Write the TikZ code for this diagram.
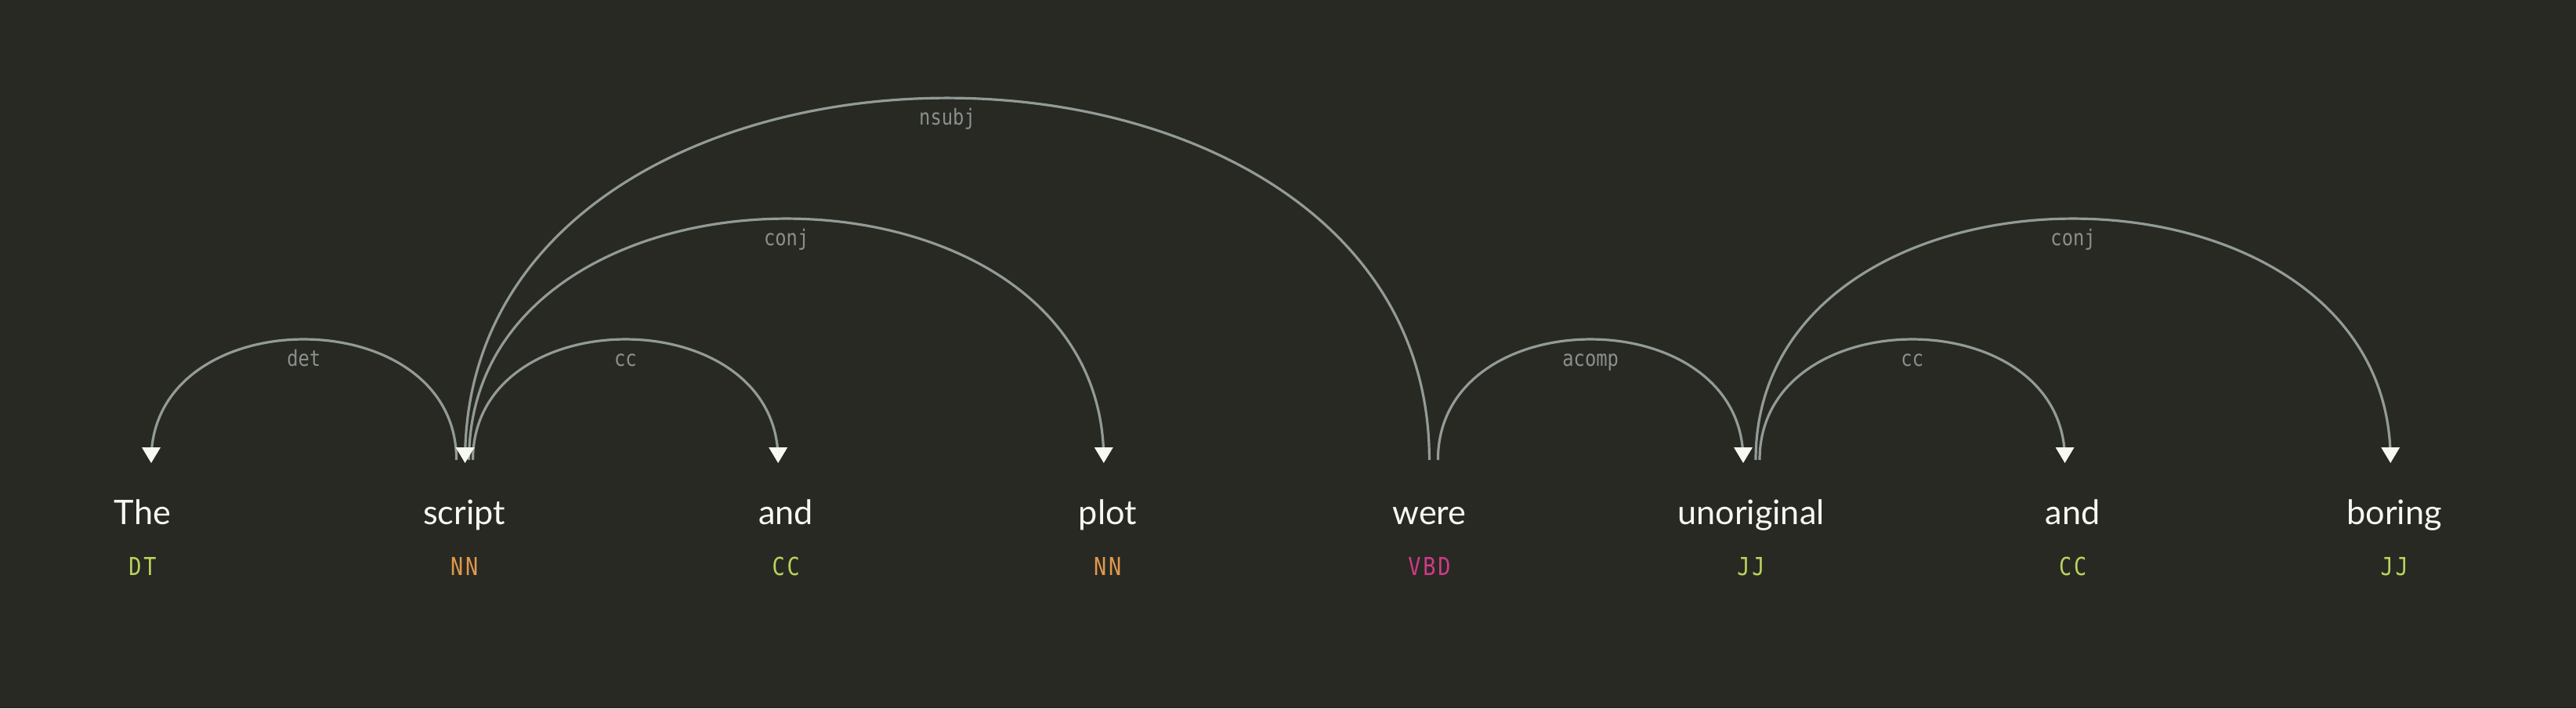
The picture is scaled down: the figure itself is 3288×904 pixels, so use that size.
\documentclass[tikz,border=0pt]{standalone}
\usepackage{fontspec}
\setmainfont{Lato}
\newfontfamily\tagfont[FakeStretch=0.85,LetterSpace=9]{DejaVu Sans Mono}
\newfontfamily\labfont[FakeStretch=0.85]{DejaVu Sans Mono}
\usetikzlibrary{calc}
\definecolor{bg}{RGB}{40,41,35}
\definecolor{fg}{RGB}{248,248,242}
\definecolor{arcc}{RGB}{146,155,151}
\definecolor{labc}{RGB}{138,144,140}
\definecolor{tgreen}{RGB}{185,212,92}
\definecolor{torange}{RGB}{226,152,76}
\definecolor{tpink}{RGB}{208,58,136}
\tikzset{
  word/.style={anchor=base, inner sep=0pt, text=fg, font=\fontsize{10.8}{12}\selectfont},
  tagtext/.style={anchor=base, inner sep=0pt, font=\tagfont\fontsize{7.9}{9}\selectfont},
  lab/.style={anchor=base, inner sep=0pt, text=labc, font=\labfont\fontsize{7}{8}\selectfont},
  arcline/.style={draw=arcc, line width=0.8pt},
  tipfill/.style={fill=fg}
}
\newcommand\deparc[5]{% name, level, label text, start coord, end coord
  \draw[arcline] (#4) .. controls +(0,{-205.3*#2}) and +(0,{-205.3*#2}) .. (#5);
  \node[lab] (#1) at ($(#4)!0.5!(#5)+(0,{-154*#2+34})$) {#3};
}
\newcommand\deptip[1]{%
  \fill[tipfill] ($(#1)+(-12,-16)$) -- ($(#1)+(12,-16)$) -- ($(#1)+(0,4)$) -- cycle;
}
\begin{document}
\begin{tikzpicture}[x=0.25pt,y=-0.25pt]
\fill[bg] (0,0) rectangle (3288,904);
\useasboundingbox (0,0) rectangle (3288,904);
% words
\node[word] (w0) at (182,669.3) {The};
\node[word] (w1) at (592.6,669.3) {script};
\node[word] (w2) at (1003.2,669.3) {and};
\node[word] (w3) at (1413.8,669.3) {plot};
\node[word] (w4) at (1824.4,669.3) {were};
\node[word] (w5) at (2235,669.3) {unoriginal};
\node[word] (w6) at (2645.6,669.3) {and};
\node[word] (w7) at (3056.2,669.3) {boring};
% tags
\node[tagtext, text=tgreen] (t0) at (182,734.3) {DT};
\node[tagtext, text=torange] (t1) at (592.6,734.3) {NN};
\node[tagtext, text=tgreen] (t2) at (1003.2,734.3) {CC};
\node[tagtext, text=torange] (t3) at (1413.8,734.3) {NN};
\node[tagtext, text=tpink] (t4) at (1824.4,734.3) {VBD};
\node[tagtext, text=tgreen] (t5) at (2235,734.3) {JJ};
\node[tagtext, text=tgreen] (t6) at (2645.6,734.3) {CC};
\node[tagtext, text=tgreen] (t7) at (3056.2,734.3) {JJ};
% arc end points (y = 587)
\coordinate (detS) at (193,587);     \coordinate (detE) at (582.6,587);
\coordinate (ccaS) at (603.6,587);   \coordinate (ccaE) at (993.2,587);
\coordinate (conjaS) at (598.6,587); \coordinate (conjaE) at (1408.8,587);
\coordinate (nsubjS) at (593.6,587); \coordinate (nsubjE) at (1824.4,587);
\coordinate (acompS) at (1835.4,587);\coordinate (acompE) at (2225,587);
\coordinate (ccbS) at (2246,587);    \coordinate (ccbE) at (2635.6,587);
\coordinate (conjbS) at (2241,587);  \coordinate (conjbE) at (3051.2,587);
% arcs
\deparc{ldet}{1}{det}{detS}{detE}
\deparc{lcca}{1}{cc}{ccaS}{ccaE}
\deparc{lconja}{2}{conj}{conjaS}{conjaE}
\deparc{lnsubj}{3}{nsubj}{nsubjS}{nsubjE}
\deparc{lacomp}{1}{acomp}{acompS}{acompE}
\deparc{lccb}{1}{cc}{ccbS}{ccbE}
\deparc{lconjb}{2}{conj}{conjbS}{conjbE}
% arrowheads
\deptip{detS}
\deptip{ccaE}
\deptip{conjaE}
\deptip{nsubjS}
\deptip{acompE}
\deptip{ccbE}
\deptip{conjbE}
\end{tikzpicture}
\end{document}
